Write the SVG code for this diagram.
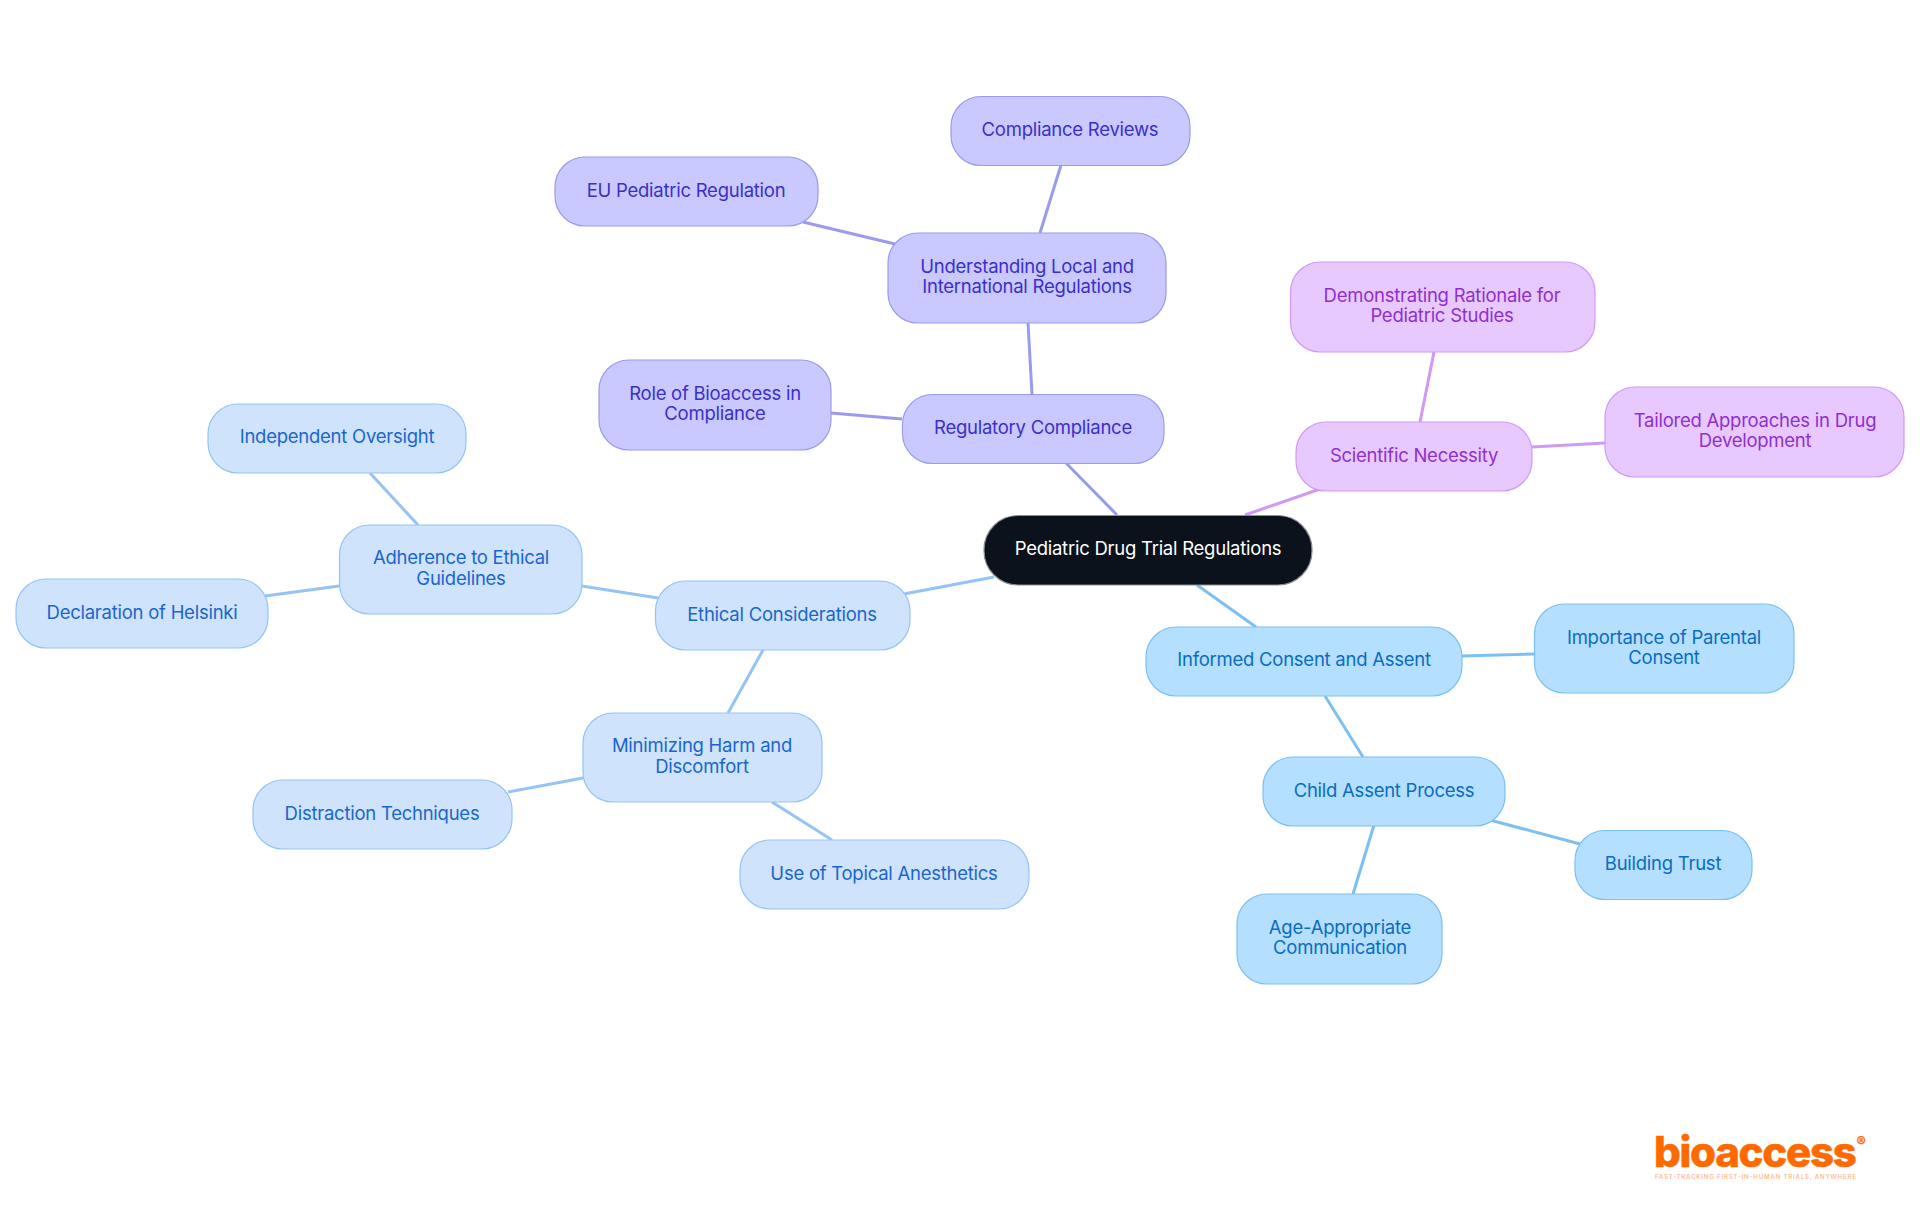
<svg xmlns="http://www.w3.org/2000/svg" width="1920" height="1215" viewBox="0 0 1920 1215">
<style>
text{font-family:"Inter","Noto Sans","Liberation Sans",sans-serif;font-size:18.5px;font-weight:400;letter-spacing:-.25px;text-anchor:middle}
rect{stroke-width:1.2}
.c line{stroke-width:3;fill:none}
.root rect{fill:#0b121b;stroke:#8a8d92}.root text{fill:#fff}
.pu rect{fill:#c9c9ff;stroke:#9a9af0}.pu text{fill:#3b2fc9}
.vi rect{fill:#e8c9ff;stroke:#cf9af5}.vi text{fill:#8f2fd0}
.bl rect{fill:#cfe3fd;stroke:#96c3f5}.bl text{fill:#1a66cc}
.sk rect{fill:#b4dfff;stroke:#7cc0f3}.sk text{fill:#0a6cc2}
.lp{stroke:#9a9af0}.lv{stroke:#cf9af5}.lb{stroke:#96c3f5}.ls{stroke:#7cc0f3}
</style>
<g id="connectors" class="c">
<line class="lp" x1="1117" y1="515" x2="1066" y2="463"/>
<line class="lp" x1="1032" y1="394" x2="1028" y2="323"/>
<line class="lp" x1="1040" y1="233" x2="1061" y2="165"/>
<line class="lp" x1="895" y1="244" x2="803" y2="222"/>
<line class="lp" x1="902" y1="419" x2="831" y2="413"/>
<line class="lv" x1="1245" y1="515" x2="1320" y2="489"/>
<line class="lv" x1="1420" y1="422" x2="1434" y2="352"/>
<line class="lv" x1="1532" y1="447" x2="1605" y2="443"/>
<line class="lb" x1="994" y1="577" x2="904" y2="594"/>
<line class="lb" x1="658" y1="598" x2="582" y2="586"/>
<line class="lb" x1="418" y1="525" x2="370" y2="473"/>
<line class="lb" x1="339" y1="586" x2="265" y2="596"/>
<line class="lb" x1="763" y1="650" x2="728" y2="713"/>
<line class="lb" x1="583" y1="778" x2="508" y2="792"/>
<line class="lb" x1="772" y1="802" x2="832" y2="840"/>
<line class="ls" x1="1197" y1="585" x2="1256" y2="627"/>
<line class="ls" x1="1462" y1="656" x2="1534" y2="654"/>
<line class="ls" x1="1325" y1="696" x2="1363" y2="757"/>
<line class="ls" x1="1490" y1="820" x2="1580" y2="844"/>
<line class="ls" x1="1374" y1="825" x2="1353" y2="894"/>
</g>
<g id="root" class="root"><rect x="984" y="515.5" width="328" height="69.5" rx="34"/><text x="1148" y="555">Pediatric Drug Trial Regulations</text></g>
<g id="regulatory" class="pu"><rect x="902.500" y="394.500" width="261.500" height="69" rx="30"/><text x="1033" y="434">Regulatory Compliance</text></g>
<g id="understanding" class="pu"><rect x="888" y="233" width="278" height="90" rx="30"/><text x="1027" y="273">Understanding Local and</text><text x="1027" y="293">International Regulations</text></g>
<g id="reviews" class="pu"><rect x="951" y="96.500" width="239" height="69" rx="30"/><text x="1070" y="136">Compliance Reviews</text></g>
<g id="eu" class="pu"><rect x="555" y="157" width="263" height="69" rx="30"/><text x="686" y="197">EU Pediatric Regulation</text></g>
<g id="role" class="pu"><rect x="599" y="360" width="232" height="90" rx="30"/><text x="715" y="400">Role of Bioaccess in</text><text x="715" y="420">Compliance</text></g>
<g id="scientific" class="vi"><rect x="1296" y="422" width="236" height="69" rx="30"/><text x="1414" y="462">Scientific Necessity</text></g>
<g id="rationale" class="vi"><rect x="1290.500" y="262" width="304.500" height="90" rx="30"/><text x="1442" y="302">Demonstrating Rationale for</text><text x="1442" y="322">Pediatric Studies</text></g>
<g id="tailored" class="vi"><rect x="1605" y="387" width="299" height="90" rx="30"/><text x="1755" y="427">Tailored Approaches in Drug</text><text x="1755" y="447">Development</text></g>
<g id="ethical" class="bl"><rect x="655.500" y="581" width="254.500" height="69" rx="30"/><text x="782" y="621">Ethical Considerations</text></g>
<g id="adherence" class="bl"><rect x="339.500" y="525" width="242.500" height="89" rx="30"/><text x="461" y="564">Adherence to Ethical</text><text x="461" y="585">Guidelines</text></g>
<g id="oversight" class="bl"><rect x="208" y="404" width="258" height="69" rx="30"/><text x="337" y="443">Independent Oversight</text></g>
<g id="helsinki" class="bl"><rect x="16" y="579" width="252" height="69" rx="30"/><text x="142" y="619">Declaration of Helsinki</text></g>
<g id="harm" class="bl"><rect x="583" y="713" width="239" height="89" rx="30"/><text x="702" y="752">Minimizing Harm and</text><text x="702" y="773">Discomfort</text></g>
<g id="distraction" class="bl"><rect x="253" y="780" width="259" height="69" rx="30"/><text x="382" y="820">Distraction Techniques</text></g>
<g id="topical" class="bl"><rect x="740" y="840" width="289" height="69" rx="30"/><text x="884" y="880">Use of Topical Anesthetics</text></g>
<g id="informed" class="sk"><rect x="1146" y="627" width="316" height="69" rx="30"/><text x="1304" y="666">Informed Consent and Assent</text></g>
<g id="parental" class="sk"><rect x="1534.500" y="604" width="259.500" height="89" rx="30"/><text x="1664" y="644">Importance of Parental</text><text x="1664" y="664">Consent</text></g>
<g id="assent" class="sk"><rect x="1263" y="757" width="242" height="69" rx="30"/><text x="1384" y="797">Child Assent Process</text></g>
<g id="trust" class="sk"><rect x="1575" y="830.500" width="177" height="69" rx="30"/><text x="1663" y="870">Building Trust</text></g>
<g id="age" class="sk"><rect x="1237" y="894" width="205" height="90" rx="30"/><text x="1340" y="934">Age-Appropriate</text><text x="1340" y="954">Communication</text></g>
<g id="logo">
<text x="1654" y="1167" style="font-size:42px;font-weight:800;letter-spacing:-1.3px;text-anchor:start;fill:#ff6a00;stroke:#ff6a00;stroke-width:.5">bioaccess<tspan dx="1" dy="-20" style="font-size:14px;letter-spacing:0;stroke-width:.2">®</tspan></text>
<text x="1655" y="1179" style="font-size:6.2px;font-weight:500;letter-spacing:0;text-anchor:start;fill:#ffb27f" textLength="201">FAST-TRACKING FIRST-IN-HUMAN TRIALS, ANYWHERE</text>
</g>
</svg>
